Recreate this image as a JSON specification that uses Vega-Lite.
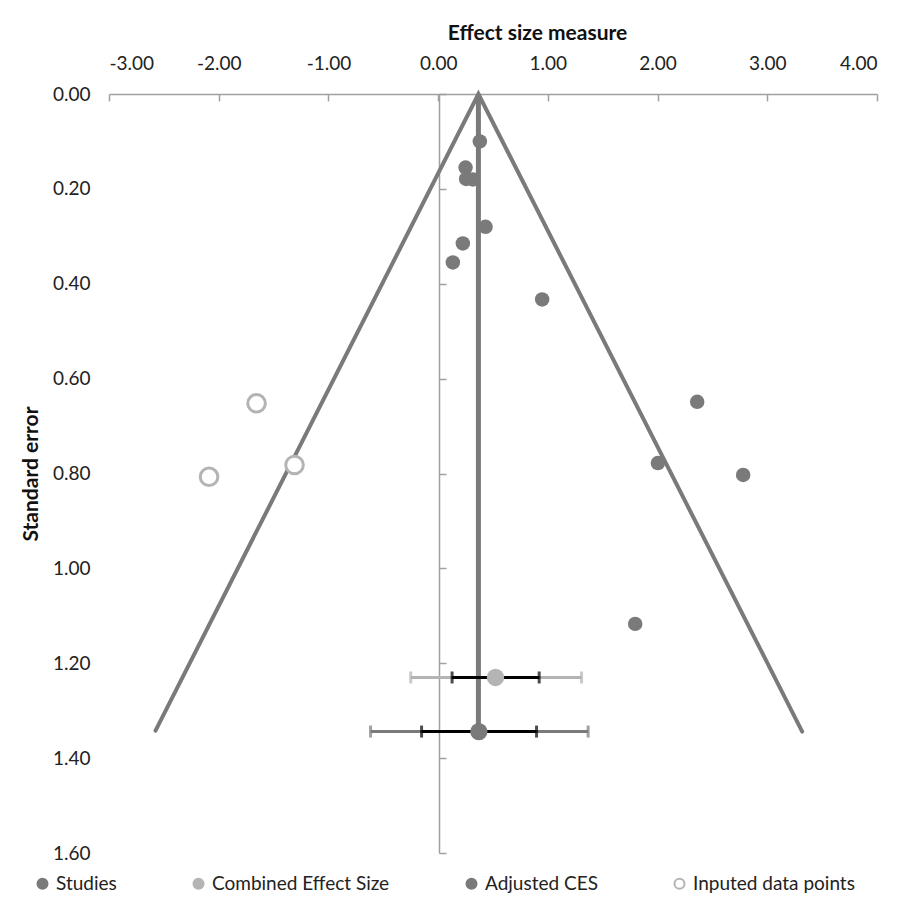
{
  "$schema": "https://vega.github.io/schema/vega-lite/v6.json",
  "autosize": {"type": "none"},
  "width": 768,
  "height": 759,
  "padding": {"left": 109, "top": 94, "right": 26, "bottom": 60},
  "background": "white",
  "config": {
    "view": {"stroke": null},
    "font": "Lato",
    "axis": {"labelFont": "Lato", "titleFont": "Lato", "labelColor": "#222", "titleColor": "#111", "labelFontSize": 19, "titleFontSize": 21, "titleFontWeight": "bold", "grid": false}
  },
  "datasets": {
    "funnel": [
      {"effect": -2.576, "se": 1.342},
      {"effect": 0.367, "se": 0},
      {"effect": 3.318, "se": 1.344}
    ],
    "center": [
      {"effect": 0.367, "se_top": 0, "se_bottom": 1.344}
    ],
    "points": [
      {"series": "Studies", "effect": 0.38, "se": 0.100},
      {"series": "Studies", "effect": 0.250, "se": 0.155},
      {"series": "Studies", "effect": 0.255, "se": 0.179},
      {"series": "Studies", "effect": 0.316, "se": 0.180},
      {"series": "Studies", "effect": 0.432, "se": 0.280},
      {"series": "Studies", "effect": 0.225, "se": 0.315},
      {"series": "Studies", "effect": 0.134, "se": 0.355},
      {"series": "Studies", "effect": 0.948, "se": 0.433},
      {"series": "Studies", "effect": 2.361, "se": 0.649},
      {"series": "Studies", "effect": 2.003, "se": 0.778},
      {"series": "Studies", "effect": 2.780, "se": 0.803},
      {"series": "Studies", "effect": 1.796, "se": 1.117},
      {"series": "Combined Effect Size", "effect": 0.523, "se": 1.230},
      {"series": "Adjusted CES", "effect": 0.371, "se": 1.344},
      {"series": "Inputed data points", "effect": -1.655, "se": 0.652},
      {"series": "Inputed data points", "effect": -1.309, "se": 0.782},
      {"series": "Inputed data points", "effect": -2.088, "se": 0.807}
    ],
    "intervals": [
      {"series": "Combined Effect Size", "se": 1.230, "outer_lo": -0.250, "outer_hi": 1.307, "inner_lo": 0.127, "inner_hi": 0.921},
      {"series": "Adjusted CES", "se": 1.344, "outer_lo": -0.616, "outer_hi": 1.367, "inner_lo": -0.151, "inner_hi": 0.897}
    ]
  },
  "resolve": {"axis": {"y": "independent"}},
  "layer": [
    {
      "data": {"name": "funnel"},
      "mark": {"type": "line", "color": "#7a7a7a", "strokeWidth": 4, "strokeCap": "round"},
      "encoding": {
        "x": {"field": "effect", "type": "quantitative", "title": "Effect size measure", "scale": {"domain": [-3, 4], "nice": false},
          "axis": {"orient": "top", "labelExpr": "replace(format(datum.value, '.2f'), '\u2212', '-')", "values": [-3, -2, -1, 0, 1, 2, 3, 4], "domainColor": "#a0a0a0", "domainWidth": 1.5, "tickColor": "#a0a0a0", "tickWidth": 1.5, "tickSize": -7, "labelPadding": 28, "titlePadding": 11, "titleX": 428, "titleAnchor": "middle"}},
        "y": {"field": "se", "type": "quantitative", "scale": {"domain": [0, 1.6], "reverse": true, "nice": false, "zero": false},
          "axis": {"orient": "left", "title": "Standard error", "format": ".2f", "values": [0, 0.2, 0.4, 0.6, 0.8, 1.0, 1.2, 1.4, 1.6], "domain": false, "ticks": false, "labelPadding": 19, "titlePadding": 11}}
      }
    },
    {
      "data": {"name": "center"},
      "mark": {"type": "rule", "color": "#7a7a7a", "strokeWidth": 5},
      "encoding": {
        "x": {"field": "effect", "type": "quantitative", "title": "Effect size measure"},
        "y": {"field": "se_top", "type": "quantitative",
          "axis": {"orient": "right", "offset": -438, "title": null, "labels": false, "values": [0, 0.2, 0.4, 0.6, 0.8, 1.0, 1.2, 1.4, 1.6], "domainColor": "#a0a0a0", "domainWidth": 1.5, "tickColor": "#a0a0a0", "tickWidth": 1.5, "tickSize": 7}},
        "y2": {"field": "se_bottom"}
      }
    },
    {
      "data": {"name": "intervals"},
      "transform": [{"filter": "datum.series === 'Combined Effect Size'"}],
      "mark": {"type": "errorbar", "ticks": {"size": 12, "thickness": 3, "color": "#b4b4b4"}, "color": "#b4b4b4", "thickness": 3},
      "encoding": {
        "x": {"field": "outer_lo", "type": "quantitative", "title": "Effect size measure"},
        "x2": {"field": "outer_hi"},
        "y": {"field": "se", "type": "quantitative", "axis": null}
      }
    },
    {
      "data": {"name": "intervals"},
      "transform": [{"filter": "datum.series === 'Adjusted CES'"}],
      "mark": {"type": "errorbar", "ticks": {"size": 12, "thickness": 3, "color": "#7a7a7a"}, "color": "#7a7a7a", "thickness": 3},
      "encoding": {
        "x": {"field": "outer_lo", "type": "quantitative", "title": "Effect size measure"},
        "x2": {"field": "outer_hi"},
        "y": {"field": "se", "type": "quantitative", "axis": null}
      }
    },
    {
      "data": {"name": "intervals"},
      "mark": {"type": "errorbar", "ticks": {"size": 12, "thickness": 3, "color": "#000000"}, "color": "#000000", "thickness": 3},
      "encoding": {
        "x": {"field": "inner_lo", "type": "quantitative", "title": "Effect size measure"},
        "x2": {"field": "inner_hi"},
        "y": {"field": "se", "type": "quantitative", "axis": null}
      }
    },
    {
      "data": {"name": "points"},
      "transform": [{"filter": "datum.series === 'Studies'"}],
      "mark": {"type": "point", "filled": true, "size": 210, "opacity": 1, "strokeWidth": 0},
      "encoding": {
        "x": {"field": "effect", "type": "quantitative", "title": "Effect size measure"},
        "y": {"field": "se", "type": "quantitative", "axis": null},
        "fill": {"field": "series", "type": "nominal",
          "scale": {"domain": ["Studies", "Combined Effect Size", "Adjusted CES", "Inputed data points"], "range": ["#7a7a7a", "#b4b4b4", "#7a7a7a", "#ffffff"]},
          "legend": {"title": null, "orient": "none", "direction": "horizontal", "legendX": -76, "legendY": 780, "labelFontSize": 19, "labelFont": "Lato", "labelColor": "#222", "labelLimit": 400, "symbolSize": 100, "symbolStrokeWidth": 2, "columnPadding": 72, "labelOffset": 4}},
        "stroke": {"field": "series", "type": "nominal",
          "scale": {"domain": ["Studies", "Combined Effect Size", "Adjusted CES", "Inputed data points"], "range": ["#7a7a7a", "#b4b4b4", "#7a7a7a", "#b4b4b4"]}}
      }
    },
    {
      "data": {"name": "points"},
      "transform": [{"filter": "datum.series === 'Combined Effect Size' || datum.series === 'Adjusted CES'"}],
      "mark": {"type": "point", "filled": true, "size": 300, "opacity": 1, "strokeWidth": 0},
      "encoding": {
        "x": {"field": "effect", "type": "quantitative", "title": "Effect size measure"},
        "y": {"field": "se", "type": "quantitative", "axis": null},
        "fill": {"field": "series", "type": "nominal"},
        "stroke": {"field": "series", "type": "nominal"}
      }
    },
    {
      "data": {"name": "points"},
      "transform": [{"filter": "datum.series === 'Inputed data points'"}],
      "mark": {"type": "point", "filled": true, "size": 310, "opacity": 1, "strokeWidth": 3},
      "encoding": {
        "x": {"field": "effect", "type": "quantitative", "title": "Effect size measure"},
        "y": {"field": "se", "type": "quantitative", "axis": null},
        "fill": {"field": "series", "type": "nominal"},
        "stroke": {"field": "series", "type": "nominal"}
      }
    }
  ]
}
